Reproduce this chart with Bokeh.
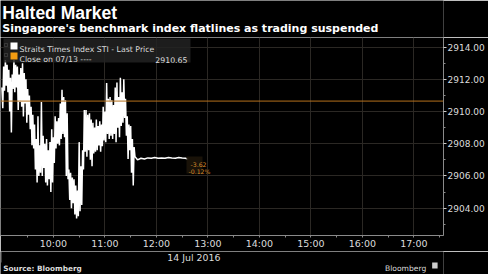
import pandas as pd
from bokeh.plotting import figure
from bokeh.layouts import column
from bokeh.models import (Range1d, FixedTicker, DatetimeTickFormatter, NumeralTickFormatter,
                          Span, Label, BoxAnnotation)
from bokeh.core.properties import value
from bokeh.embed import file_html
from bokeh.resources import INLINE

# ---------------- data ----------------
title_text = "Halted Market"
subtitle_text = "Singapore's benchmark index flatlines as trading suspended"
series_name = "Straits Times Index STI - Last Price"
close_name = "Close on 07/13 ----"
prev_close = 2910.65
prev_close_text = "2910.65"
change_abs = "-3.62"
change_pct = "-0.12%"
date_text = "14 Jul 2016"
source_text = "Source: Bloomberg"
brand_text = "Bloomberg"
session_date = "2016-07-14"

x_tick_labels = ["10:00", "11:00", "12:00", "13:00", "14:00", "15:00", "16:00", "17:00"]
y_ticks = [2904, 2906, 2908, 2910, 2912, 2914]
y_minor_ticks = [2903, 2905, 2907, 2909, 2911, 2913]

# minutes after 09:00 for the trading part (one print per minute)
active_minutes = list(range(156))
active_prices = [
    2911.5, 2910.2, 2912.8, 2911.3, 2913.2, 2911.6, 2912.9, 2911.2, 2912.6, 2910.0,
    2912.1, 2908.7, 2912.3, 2911.4, 2913.2, 2911.2, 2912.9, 2911.5, 2912.8, 2910.1,
    2912.3, 2910.6, 2912.7, 2910.3, 2913.0, 2909.7, 2912.4, 2910.5, 2912.0, 2909.3,
    2911.4, 2909.8, 2911.0, 2908.9, 2910.3, 2907.9, 2909.8, 2907.7, 2909.2, 2906.4,
    2908.3, 2905.6, 2909.7, 2906.0, 2907.9, 2906.2, 2910.6, 2906.0, 2908.5, 2906.5,
    2908.0, 2905.6, 2908.3, 2905.4, 2907.6, 2905.8, 2908.1, 2905.0, 2908.9, 2905.6,
    2908.4, 2906.8, 2909.7, 2907.7, 2909.4, 2908.0, 2909.6, 2907.9, 2910.5, 2908.3,
    2911.35, 2908.6, 2910.9, 2908.4, 2910.7, 2906.0, 2909.9, 2905.8, 2906.4, 2904.5,
    2906.2, 2904.0, 2905.9, 2904.3, 2905.8, 2903.6, 2905.4, 2903.35, 2905.1, 2903.5,
    2908.1, 2903.8, 2906.6, 2904.2, 2907.6, 2906.4, 2910.1, 2907.5, 2910.1, 2907.2,
    2909.8, 2907.6, 2909.9, 2907.0, 2909.5, 2906.6, 2909.3, 2907.4, 2909.0, 2907.5,
    2909.5, 2907.6, 2909.1, 2907.9, 2909.4, 2907.5, 2909.2, 2907.85, 2910.3, 2908.2,
    2910.0, 2908.1, 2911.78, 2908.6, 2910.8, 2908.3, 2910.9, 2908.5, 2910.7, 2908.3,
    2910.4, 2908.6, 2911.5, 2908.1, 2911.8, 2909.0, 2910.9, 2908.4, 2912.1, 2909.1,
    2911.2, 2909.3, 2912.0, 2909.6, 2910.8, 2908.5, 2909.7, 2907.05, 2909.2, 2907.6,
    2909.1, 2906.2, 2908.3, 2905.4, 2907.8, 2907.2,
]
# suspended part (flatline)
flat_minutes = [158, 162, 166, 170, 174, 178, 182, 186, 190, 194, 198, 202, 206, 210, 214, 217]
flat_prices = [2907.0, 2907.1, 2907.05, 2907.12, 2907.1, 2907.15, 2907.1, 2907.12,
               2907.1, 2907.15, 2907.12, 2907.1, 2907.15, 2907.12, 2907.1, 2907.03]

# ---------------- build ----------------
base = pd.Timestamp(session_date + " 09:00")
minutes = active_minutes + flat_minutes
prices = active_prices + flat_prices
times = [base + pd.Timedelta(minutes=m) for m in minutes]


def ms(ts):
    return ts.value // 10**6


hour_ticks = [ms(pd.Timestamp(session_date + " " + t)) for t in x_tick_labels]
half_ticks = [ms(pd.Timestamp(session_date + " " + t) - pd.Timedelta(minutes=30)) for t in x_tick_labels]
half_ticks.append(ms(pd.Timestamp(session_date + " 17:30")))

x_start = pd.Timestamp(session_date + " 08:58:20")
x_end = pd.Timestamp(session_date + " 17:34:30")

W, H = 488, 274
HEAD_H = 37          # header strip height
FRAME_H = 200        # plot frame height
AXIS_H = 14          # x axis strip under frame
FOOT_H = H - HEAD_H - FRAME_H - AXIS_H
FB = HEAD_H + FRAME_H  # frame bottom in page px
TITLE_FONT = "Liberation Sans"
FONT = "DejaVu Sans"
BG = "black"
TXT = "#dcdcdc"
SHIFT = 3  # text glyph baseline correction


def strip(height, top):
    f = figure(width=W, height=height, output_backend="svg", toolbar_location=None,
               x_range=Range1d(0, W), y_range=Range1d(top + height, top),
               x_axis_type=None, y_axis_type=None,
               background_fill_color=BG, border_fill_color=BG,
               min_border=0, min_border_left=0, min_border_right=0,
               min_border_top=0, min_border_bottom=0)
    f.outline_line_color = None
    f.grid.visible = False
    return f


def strip_text(f, x, y, text, font, size, bold=False, color=TXT, align="left"):
    f.text(x=[x], y=[y - SHIFT], text=[text], text_font=value(font), text_font_size=f"{size}px",
           text_font_style="bold" if bold else "normal", text_color=color,
           text_align=align, text_baseline="alphabetic")


# header
head = strip(HEAD_H, 0)
strip_text(head, 2, 15, title_text, TITLE_FONT, 17.5, bold=True, color="white")
strip_text(head, 2, 31, subtitle_text, FONT, 11, bold=True, color="white")

# main chart
p = figure(width=W, height=FRAME_H + AXIS_H, x_axis_type="datetime",
           x_range=Range1d(x_start, x_end), y_range=Range1d(2902.3, 2914.6),
           output_backend="svg", toolbar_location=None, y_axis_location="right",
           background_fill_color=BG, border_fill_color=BG,
           min_border_left=0, min_border_right=45, min_border_top=0, min_border_bottom=AXIS_H)
p.outline_line_color = None

grid_col = "#2b2824"
p.xgrid.ticker = FixedTicker(ticks=hour_ticks)
p.xgrid.grid_line_color = grid_col
p.ygrid.grid_line_color = grid_col

xa = p.xaxis[0]
xa.ticker = FixedTicker(ticks=hour_ticks, minor_ticks=half_ticks)
xa.formatter = DatetimeTickFormatter(hours="%H:%M", hourmin="%H:%M", minutes="%H:%M",
                                     minsec="%H:%M", days="%H:%M")
xa.axis_line_color = "#8a8a8a"
xa.major_tick_line_color = "#8a8a8a"
xa.minor_tick_line_color = "#8a8a8a"
xa.major_tick_out = 2
xa.major_tick_in = 0
xa.minor_tick_out = 2
xa.minor_tick_in = 0
xa.major_label_standoff = 0
xa.major_label_text_color = TXT
xa.major_label_text_font = FONT
xa.major_label_text_font_size = "9.5px"

ya = p.yaxis[0]
ya.ticker = FixedTicker(ticks=y_ticks, minor_ticks=y_minor_ticks)
ya.formatter = NumeralTickFormatter(format="0.00")
ya.axis_line_color = "#8a8a8a"
ya.major_tick_line_color = "#cccccc"
ya.minor_tick_line_color = "#8a8a8a"
ya.major_tick_out = 3
ya.major_tick_in = 0
ya.minor_tick_out = 2
ya.minor_tick_in = 0
ya.major_label_standoff = 1
ya.major_label_text_color = TXT
ya.major_label_text_font = FONT
ya.major_label_text_font_size = "9px"

# previous close
p.add_layout(Span(location=prev_close, dimension="width", line_color="#b5701c", line_width=1))

# price line
p.line(times, prices, line_color="white", line_width=1.5)


def sy(page_y):
    return FB - page_y


def add_label(text, x, cy, size, color=TXT, bold=False, align="left"):
    p.add_layout(Label(x=x, y=sy(cy), x_units="screen", y_units="screen", text=text,
                       text_font=FONT, text_font_size=f"{size}px",
                       text_font_style="bold" if bold else "normal",
                       text_color=color, text_align=align, text_baseline="alphabetic"))


def add_box(left, right, top, bottom, color, alpha=1.0, line=None):
    p.add_layout(BoxAnnotation(left=left, right=right, top=sy(top), bottom=sy(bottom),
                               left_units="screen", right_units="screen",
                               top_units="screen", bottom_units="screen",
                               fill_color=color, fill_alpha=alpha, line_color=line))


# legend box
add_box(3, 190, 40, 64, "#222222", 0.85)
add_box(10, 17, 44, 51, "white")
add_box(10, 17, 54, 61, "#f39c12")
add_box(4, 7, 45, 48, None, 0.0, line="#777777")
add_box(4, 7, 55, 58, None, 0.0, line="#777777")
add_label(series_name, 19, 51, 7.8)
add_label(close_name, 19, 61, 7.8)
add_label(prev_close_text, 187, 61, 7.8, align="right")

# change annotation
add_box(186, 202, 158, 175, "#1c1409", 0.9)
add_label(change_abs, 190, 166, 6.2, color="#d8892a")
add_label(change_pct, 188, 173, 6.2, color="#d8892a")

# footer
foot_top = HEAD_H + FRAME_H + AXIS_H
foot = strip(FOOT_H, foot_top)
strip_text(foot, 213, 260, date_text, FONT, 9.4, align="center")
strip_text(foot, 3, 271, source_text, FONT, 7.3, bold=True)
strip_text(foot, 469, 271, brand_text, FONT, 7.6, align="right")
foot.rect(x=[478.5], y=[267 - SHIFT + 1], width=6, height=6, fill_color="#cccccc", line_color=None)
foot.segment(x0=[0.5], y0=[foot_top], x1=[0.5], y1=[262], line_color="#8a8a8a", line_width=1)

layout = column(head, p, foot, spacing=0)
open("out.html", "w").write(file_html(layout, INLINE))
